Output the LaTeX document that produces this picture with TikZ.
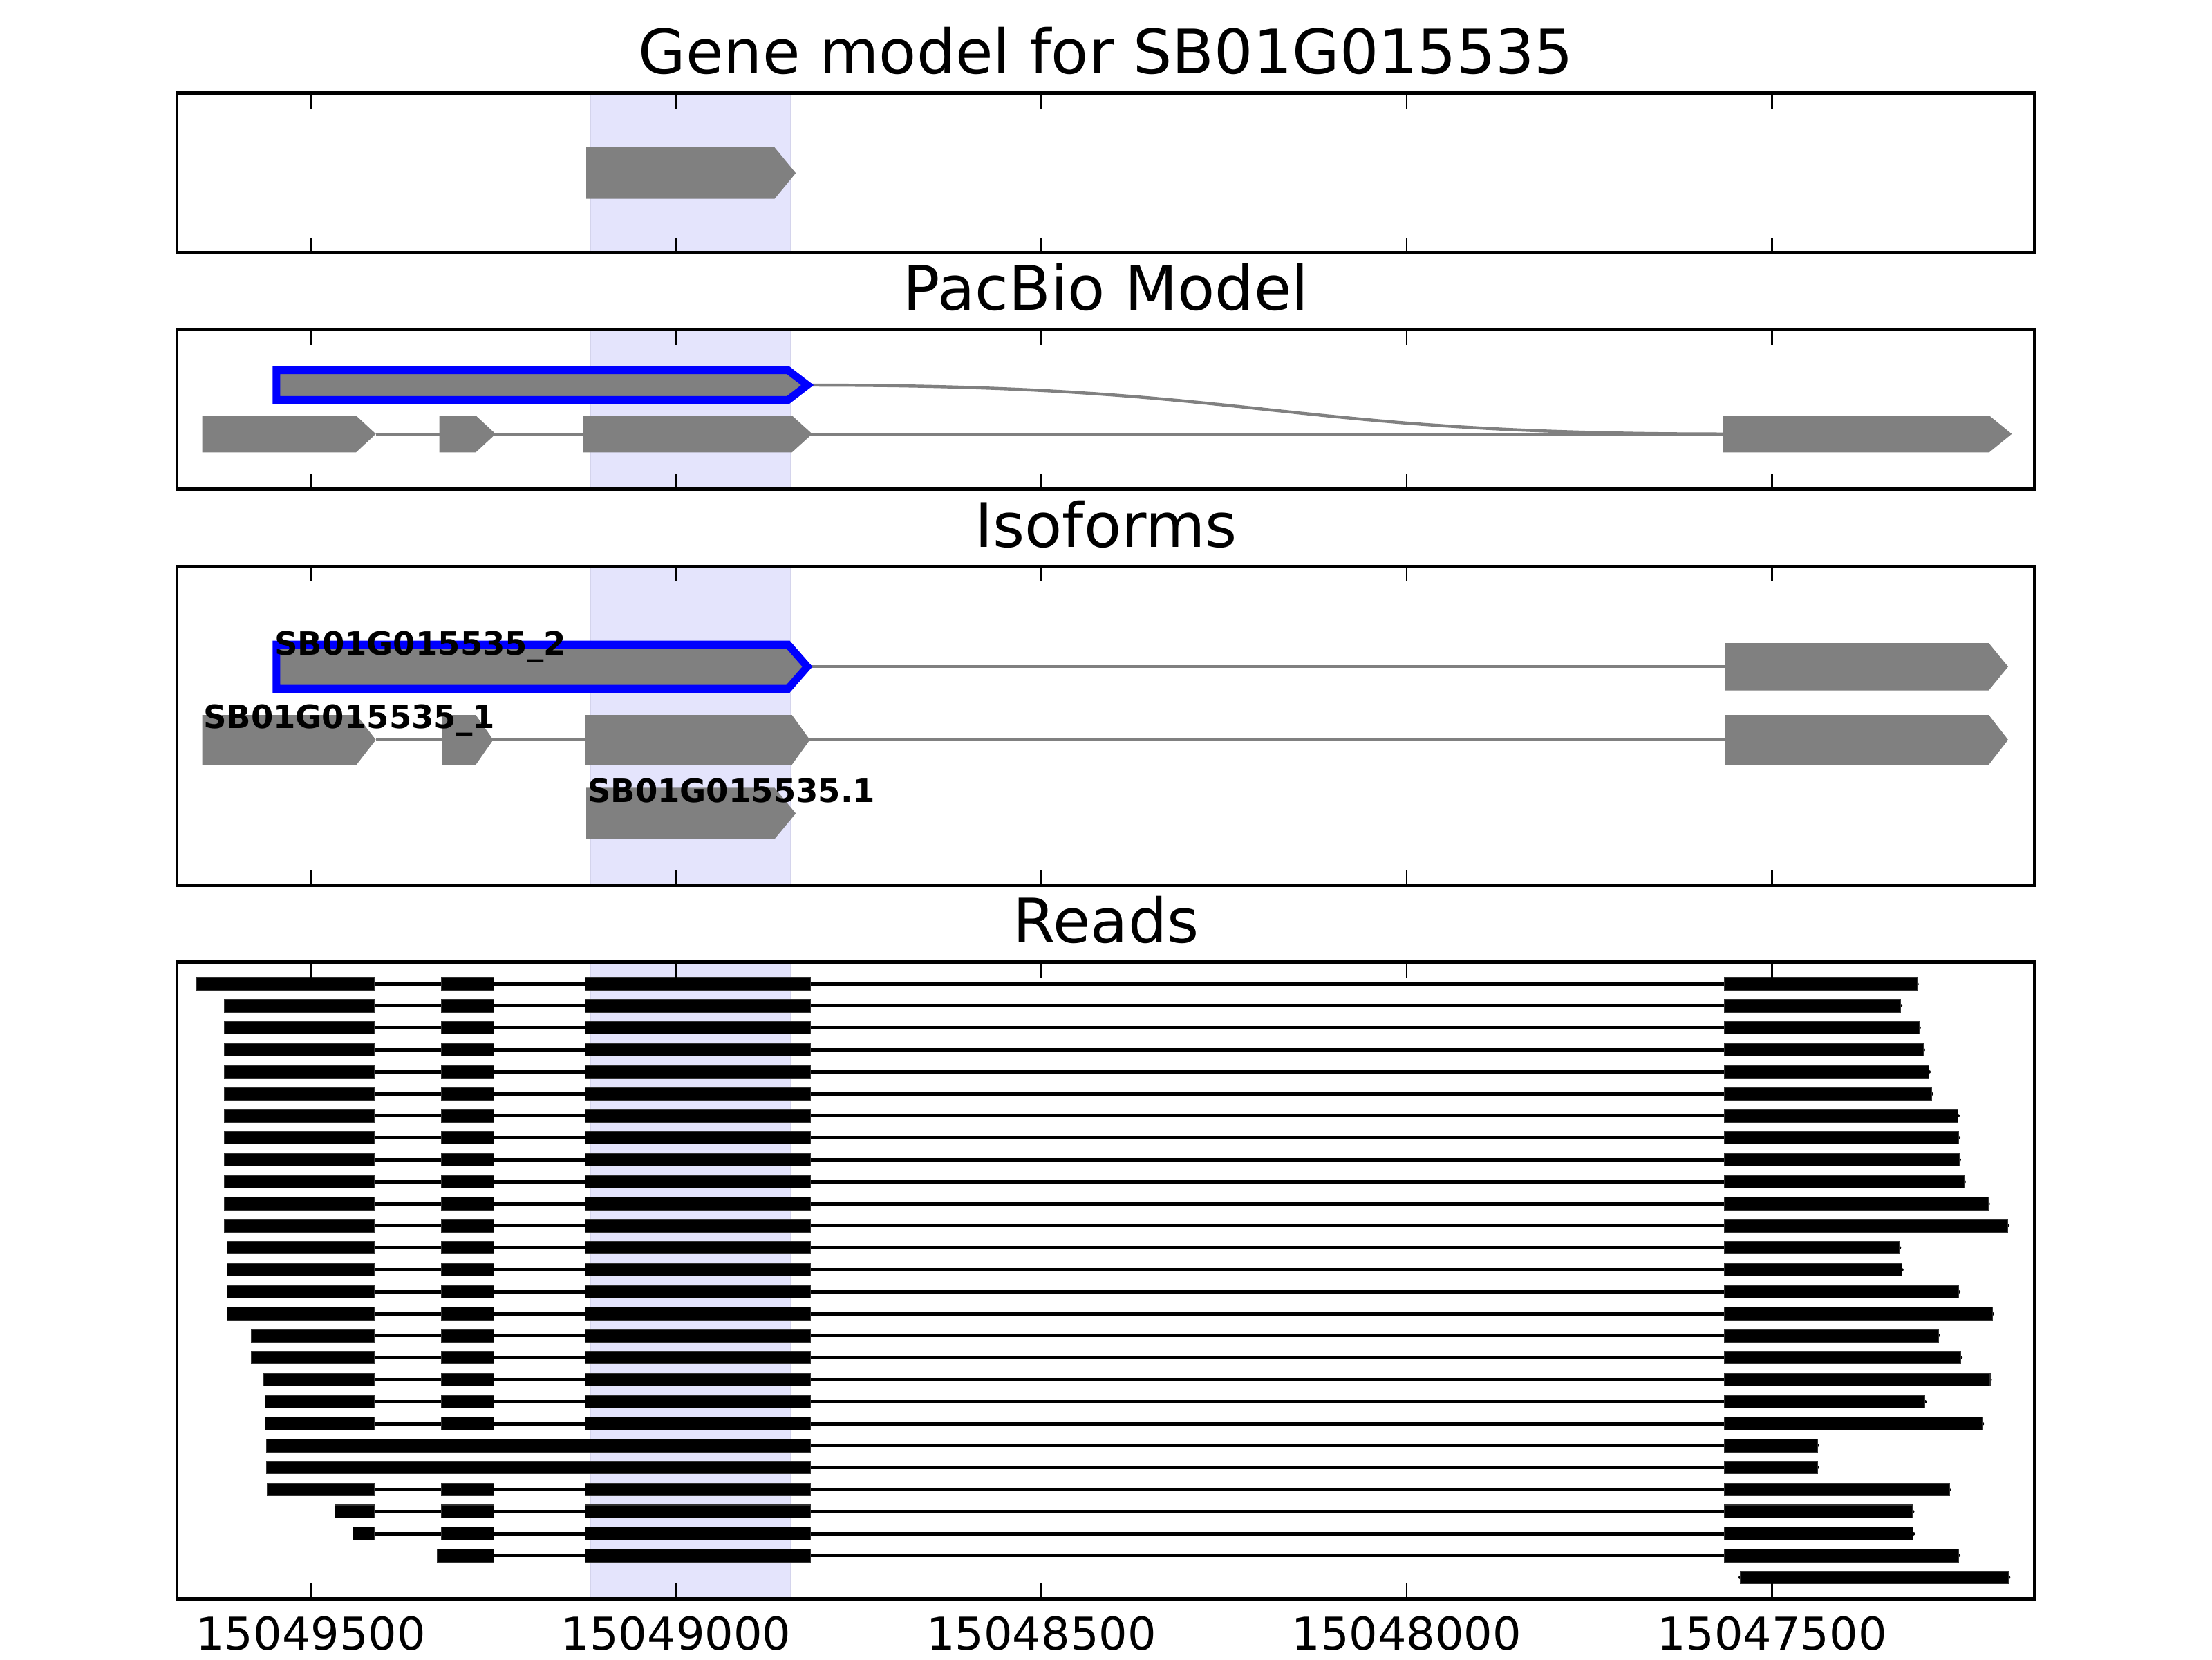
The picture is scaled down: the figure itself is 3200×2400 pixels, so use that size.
\documentclass[tikz,border=0pt]{standalone}
\usepackage{fontspec}
\setmainfont{DejaVu Sans}

\definecolor{lavanda}{RGB}{228,228,252}
\definecolor{lavborde}{RGB}{212,212,236}

\tikzset{
  marco/.style={draw=black, line width=0.9pt},
  marca/.style={line width=0.5pt},
  exon/.style={fill=gray},
  exonazul/.style={fill=gray, draw=blue, line width=2pt},
  intron/.style={draw=gray, line width=0.8pt},
  bloque/.style={fill=black, draw=black!80, line width=0.2pt},
  union/.style={line width=0.9pt, line cap=round},
  sombra/.style={fill=lavanda, draw=lavborde, line width=0.3pt},
  titulo/.style={anchor=base, inner sep=0pt, font=\fontsize{16}{19}\selectfont},
  eje/.style={anchor=base, inner sep=0pt, font=\fontsize{11.8}{14}\selectfont},
  etiqueta/.style={anchor=base west, inner sep=0pt, font=\bfseries\fontsize{8.4}{10}\selectfont},
}

% flecha de exon: inicio, fin del cuerpo, punta, arriba, abajo
\newcommand{\flecha}[6][exon]{%
  \path[#1] (#2,#5) -- (#3,#5) -- (#4,{(#5+#6)/2}) -- (#3,#6) -- (#2,#6) -- cycle;}

\begin{document}
\begin{tikzpicture}[x=0.00635cm, y=-0.00635cm]
    \useasboundingbox (0,0) rectangle (3200,2400);

    % Region sombreada
    \foreach \arriba/\abajo in {134.7/365.7, 476.7/707.7, 819/1280, 1391.7/2312}
        \path[sombra] (853.8,\arriba) rectangle (1144.2,\abajo);

    % Titulos
    \node[titulo] (tit1) at (1600,106.7) {Gene model for SB01G015535};
    \node[titulo] (tit2) at (1600,448.7) {PacBio Model};
    \node[titulo] (tit3) at (1600,791) {Isoforms};
    \node[titulo] (tit4) at (1600,1363.7) {Reads};

    % Modelo del gen
    \flecha{848.2}{1120.4}{1151.2}{213}{287.7}

    % Modelo PacBio
    \draw[intron] (1168,557) .. controls (1834,557) and (1834,627.7) .. (2492.7,627.7);
    \draw[intron] (543.7,627.7) -- (2492.7,627.7);
    \flecha[exonazul]{399.8}{1140}{1168}{535.5}{578.5}
    \flecha{292.6}{515}{543.7}{601}{654.3}
    \flecha{635.6}{688.3}{717}{601}{654.3}
    \flecha{844}{1145.6}{1175.1}{601}{654.3}
    \flecha{2492.7}{2877.6}{2910.3}{601}{654.3}

    % Isoformas
    \draw[intron] (1168,964.2) -- (2495,964.2);
    \draw[intron] (543.7,1070) -- (2495,1070);
    \flecha[exonazul]{399.8}{1140}{1168}{932.2}{996.2}
    \flecha{2495}{2877}{2905}{930}{998.5}
    \flecha{292.6}{515.7}{543.7}{1034}{1106}
    \flecha{639}{688.3}{713.5}{1034}{1106}
    \flecha{846.8}{1145.6}{1171.6}{1034}{1106}
    \flecha{2495}{2877}{2905}{1034}{1106}
    \flecha{848.2}{1120.4}{1151.2}{1139.3}{1213.7}
    \node[etiqueta] (iso2) at (396,947) {SB01G015535\_2};
    \node[etiqueta] (iso1) at (293,1053.3) {SB01G015535\_1};
    \node[etiqueta] (iso3) at (849,1160) {SB01G015535.1};

    % Lecturas completas
    \foreach \i/\xs/\xe in {1/284.2/2773.2, 2/324.9/2749.6, 3/324.9/2776.3, 4/324.9/2782.6,
        5/324.9/2790.6, 6/324.9/2794.6, 7/324.9/2832.6, 8/324.9/2833.5, 9/324.9/2834.4,
        10/324.9/2841.5, 11/324.9/2876.3, 12/324.9/2904.5, 13/328.4/2747.8, 14/328.4/2751.3,
        15/328.4/2833.5, 16/328.4/2882.6, 17/363.5/2804, 18/363.5/2836.6, 19/381.7/2879,
        20/383.8/2784.8, 21/383.8/2867.9, 24/386.6/2820, 25/484.8/2767, 26/510.8/2767.9} {
        \pgfmathsetmacro\y{1423+31.8*(\i-1)}
        \draw[union] (541.6,\y) -- (\xe,\y);
        \foreach \a/\b in {\xs/541.6, 638.4/714.2, 846.1/1172.3, 2494.6/\xe}
            \path[bloque] (\a,\y-9.25) rectangle (\b,\y+9.25);
    }

    % Lecturas sin intrones al inicio
    \foreach \i in {22,23} {
        \pgfmathsetmacro\y{1423+31.8*(\i-1)}
        \draw[union] (1172.3,\y) -- (2629,\y);
        \path[bloque] (385.9,\y-9.25) rectangle (1172.3,\y+9.25);
        \path[bloque] (2494.6,\y-9.25) rectangle (2629,\y+9.25);
    }

    % Lecturas cortas
    \draw[union] (714.2,2249.8) -- (2833.5,2249.8);
    \foreach \a/\b in {632.8/714.2, 846.1/1172.3, 2494.6/2833.5}
        \path[bloque] (\a,2240.55) rectangle (\b,2259.05);
    \draw[union] (2517.4,2281.6) -- (2905.8,2281.6);
    \path[bloque] (2517.4,2272.35) rectangle (2905.8,2290.85);

    % Marcas y marcos
    \foreach \arriba/\abajo in {134.7/365.7, 476.7/707.7, 819/1280, 1391.7/2312} {
        \foreach \t in {449.7,978.1,1506.5,2034.9,2563.4} {
            \draw[marca] (\t,\arriba) -- ++(0,22);
            \draw[marca] (\t,\abajo) -- ++(0,-22);
        }
        \draw[marco] (256,\arriba) rectangle (2943.7,\abajo);
    }

    % Eje x
    \foreach \t/\v [count=\k] in {449.7/15049500, 978.1/15049000, 1506.5/15048500,
        2034.9/15048000, 2563.4/15047500}
        \node[eje] (num\k) at (\t,2386) {\v};
\end{tikzpicture}
\end{document}
